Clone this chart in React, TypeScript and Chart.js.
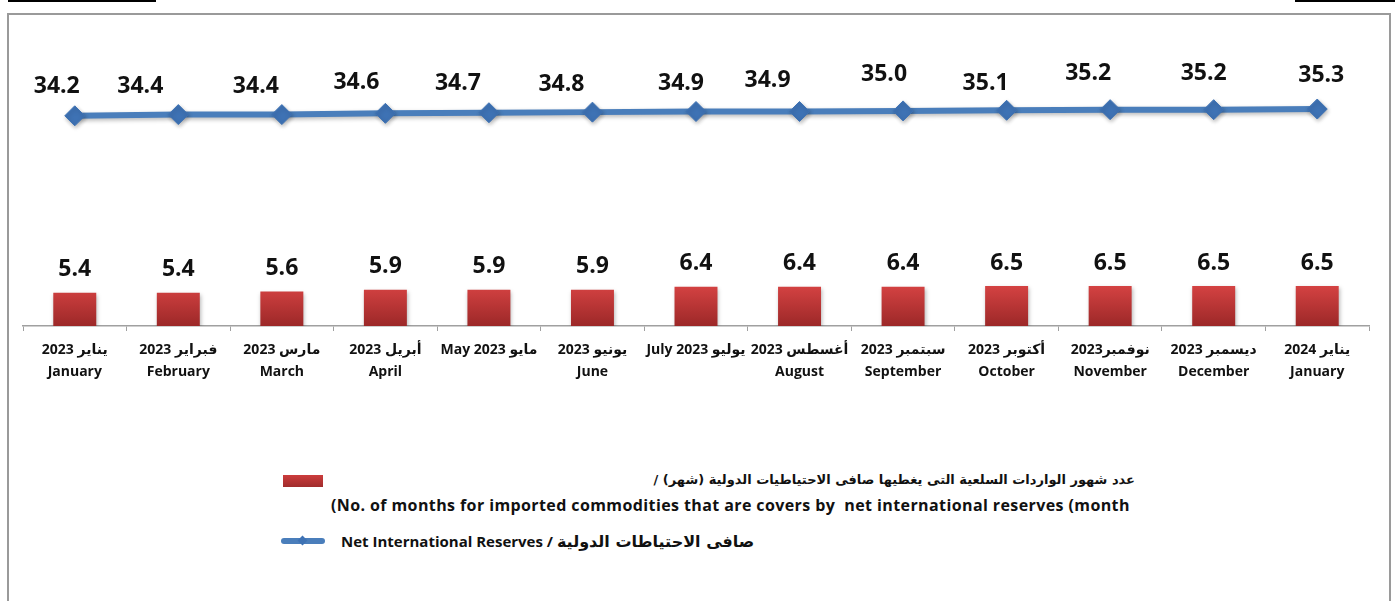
import React, { useEffect, useRef } from "react";
import { Chart, registerables } from "chart.js";

Chart.register(...registerables);

const FONT = "'Open Sans', 'DejaVu Sans', sans-serif";

// Category labels: Arabic month + year on the first line, English month below
const monthLabels: string[][] = [
  ["يناير 2023", "January"],
  ["فبراير 2023", "February"],
  ["مارس 2023", "March"],
  ["أبريل 2023", "April"],
  ["May 2023 مايو"],
  ["يونيو 2023", "June"],
  ["July 2023 يوليو"],
  ["أغسطس 2023", "August"],
  ["سبتمبر 2023", "September"],
  ["أكتوبر 2023", "October"],
  ["نوفمبر2023", "November"],
  ["ديسمبر 2023", "December"],
  ["يناير 2024", "January"],
];

// Months of commodity imports covered by net international reserves
const coverMonths = [5.4, 5.4, 5.6, 5.9, 5.9, 5.9, 6.4, 6.4, 6.4, 6.5, 6.5, 6.5, 6.5];

// Net international reserves
const netReserves = [34.2, 34.4, 34.4, 34.6, 34.7, 34.8, 34.9, 34.9, 35.0, 35.1, 35.2, 35.2, 35.3];

// Hand-placed value labels of the reserves line: [dx, dy] nudges from the default spot
const reserveLabelNudge: [number, number][] = [
  [-18, 1], [-38, 2], [-26, 2], [-29, -1], [-31, 1], [-31, 2], [-15, 2],
  [-32, -1], [-19, -6], [-21, 3], [-22, -6], [-10, -6], [4, -4],
];

const coverLegendArabic = "عدد شهور الواردات السلعية التى يغطيها صافى الاحتياطيات الدولية (شهر) /";
const coverLegendEnglish = "(No. of months for imported commodities that are covers by  net international reserves (month";
const reservesLegendEnglish = "Net International Reserves / ";
const reservesLegendArabic = "صافى الاحتياطات الدولية";

const valueLabels = {
  id: "valueLabels",
  afterDatasetsDraw(chart: any) {
    const ctx = chart.ctx;
    ctx.save();
    ctx.font = `bold 23px ${FONT}`;
    ctx.fillStyle = "#111";
    ctx.textAlign = "center";
    ctx.textBaseline = "middle";
    chart.data.datasets.forEach((ds: any, i: number) => {
      const meta = chart.getDatasetMeta(i);
      const isBar = ds.type === "bar";
      meta.data.forEach((el: any, j: number) => {
        const [dx, dy] = isBar ? [0, 0] : reserveLabelNudge[j] || [0, 0];
        const gap = isBar ? 23 : 30;
        ctx.fillText(Number(ds.data[j]).toFixed(1), el.x + dx, el.y - gap + dy);
      });
    });
    ctx.restore();
  },
};

const softShadow = {
  id: "softShadow",
  beforeDatasetDraw(chart: any) {
    const c = chart.ctx;
    c.save();
    c.shadowColor = "rgba(0,0,0,0.28)";
    c.shadowBlur = 4;
    c.shadowOffsetX = 1;
    c.shadowOffsetY = 2;
  },
  afterDatasetDraw(chart: any) {
    chart.ctx.restore();
  },
};

function ReservesChart() {
  const canvasRef = useRef<HTMLCanvasElement | null>(null);

  useEffect(() => {
    const canvas = canvasRef.current;
    if (!canvas) return;
    const tallest = Math.max(...coverMonths);
    const chart = new Chart(canvas, {
      type: "bar",
      data: {
        labels: monthLabels,
        datasets: [
          {
            type: "line",
            data: netReserves,
            order: 0,
            borderColor: "#4a7ebb",
            borderWidth: 6,
            pointStyle: "rectRot",
            pointRadius: 10,
            pointBackgroundColor: "#3e72b4",
            pointBorderColor: "#3e72b4",
            pointBorderWidth: 1,
            tension: 0,
          } as any,
          {
            type: "bar",
            data: coverMonths,
            order: 1,
            categoryPercentage: 1,
            barPercentage: 0.415,
            backgroundColor: (c: any) => {
              const { chart: ch } = c;
              if (!ch.chartArea) return "#c0392b";
              const y = ch.scales.y;
              const g = ch.ctx.createLinearGradient(0, y.getPixelForValue(tallest), 0, y.getPixelForValue(0));
              g.addColorStop(0, "#d44242");
              g.addColorStop(1, "#9c2828");
              return g;
            },
            borderWidth: 0,
          },
        ],
      },
      options: {
        animation: false,
        responsive: false,
        devicePixelRatio: 1,
        layout: { padding: { left: 15, right: 19, top: 17, bottom: 0 } },
        plugins: {
          legend: { display: false },
          tooltip: { enabled: false },
        },
        scales: {
          x: {
            grid: {
              display: true,
              drawOnChartArea: false,
              drawTicks: true,
              tickLength: 5,
              color: "#a0a0a0",
              offset: true,
            },
            border: { display: true, color: "#a0a0a0", width: 1.5 },
            ticks: {
              autoSkip: false,
              maxRotation: 0,
              minRotation: 0,
              padding: 8,
              color: "#111",
              font: { family: FONT, size: 14, weight: "bold", lineHeight: 1.57 },
            },
            afterFit: (s: any) => {
              s.height = 88;
            },
          },
          y: { display: false, min: 0, max: 48 },
        },
      },
      plugins: [softShadow, valueLabels],
    });
    return () => chart.destroy();
  }, []);

  return (
    <canvas
      ref={canvasRef}
      width={1380}
      height={400}
      style={{ position: "absolute", left: 8, top: 14, width: 1380, height: 400 }}
    />
  );
}

export default function App() {
  const textStyle: React.CSSProperties = {
    position: "absolute",
    fontFamily: FONT,
    fontWeight: "bold",
    fontSize: 15,
    lineHeight: "20px",
    color: "#111",
    whiteSpace: "pre",
  };
  const arabic: React.CSSProperties = { fontFamily: "'DejaVu Sans', sans-serif", fontSize: 13 };
  return (
    <div
      style={{
        position: "fixed",
        left: 0,
        top: 0,
        width: 1395,
        height: 601,
        background: "#fff",
        overflow: "hidden",
      }}
    >
      <div style={{ position: "absolute", left: 8, top: 0, width: 148, height: 2, background: "#000" }} />
      <div style={{ position: "absolute", left: 1295, top: 0, width: 100, height: 2, background: "#000" }} />
      <div
        style={{
          position: "absolute",
          left: 7,
          top: 13,
          width: 1384,
          height: 640,
          border: "2px solid #9a9a9a",
          boxSizing: "border-box",
        }}
      />
      <ReservesChart />

      {/* legend */}
      <div
        style={{
          position: "absolute",
          left: 283,
          top: 475,
          width: 40,
          height: 12,
          background: "linear-gradient(#cc3c3c, #a02c2c)",
        }}
      />
      <div dir="rtl" style={{ ...textStyle, ...arabic, right: 260, top: 470 }}>
        {coverLegendArabic}
      </div>
      <div dir="ltr" style={{ ...textStyle, fontSize: 16, letterSpacing: 0.4, left: 331, top: 495 }}>
        {coverLegendEnglish}
      </div>
      <div
        style={{
          position: "absolute",
          left: 281,
          top: 538,
          width: 44,
          height: 6,
          borderRadius: 3,
          background: "#4a7ebb",
        }}
      />
      <div
        style={{
          position: "absolute",
          left: 299,
          top: 537,
          width: 7,
          height: 7,
          transform: "rotate(45deg)",
          background: "#3e72b4",
        }}
      />
      <div dir="ltr" style={{ ...textStyle, left: 341, top: 531 }}>
        {reservesLegendEnglish}
        <span style={{ ...arabic, fontSize: 16 }}>{reservesLegendArabic}</span>
      </div>
    </div>
  );
}
